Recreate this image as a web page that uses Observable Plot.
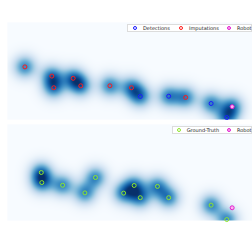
<!DOCTYPE html>
<html>
<head>
<meta charset="utf-8">
<script src="https://cdn.jsdelivr.net/npm/d3@7"></script>
<script src="https://cdn.jsdelivr.net/npm/@observablehq/plot@0.6"></script>
<style>
  body { margin: 0; background: #fff; font-family: "DejaVu Sans", sans-serif; }
  #wrap { position: relative; width: 252px; height: 240px; overflow: hidden; }
  #wrap svg { display: block; }
  .legend { position: absolute; background: #fff; border: 1px solid #dcdcdc; box-sizing: border-box; }
  .ring { position: absolute; width: 4px; height: 4px; border-radius: 50%; box-sizing: border-box; border: 1px solid; }
  .lab { position: absolute; font-size: 5px; line-height: 5px; color: #222; white-space: nowrap; }
</style>
</head>
<body>
<div id="wrap"></div>
<script>
// ---- data (metres) ----
const detX = [5.42, 6.58, 8.31, 8.95];
const detY = [0.95, 0.96, 0.66, 0.08];
const impX = [0.71, 1.81, 1.89, 2.68, 2.99, 4.18, 5.06, 7.27];
const impY = [2.17, 1.79, 1.31, 1.70, 1.39, 1.39, 1.31, 0.91];
const robotX = [9.17];
const robotY = [0.53];
const gtX = [1.38, 1.40, 2.25, 3.59, 3.16, 4.74, 5.17, 5.42, 6.12, 6.58, 8.31, 8.95];
const gtY = [2.00, 1.58, 1.47, 1.79, 1.15, 1.14, 1.46, 0.95, 1.42, 0.95, 0.64, 0.04];
const xDomain = [0, 10];
const yDomain = [0, 4];
const sigma = 0.32;

const zip = (xs, ys) => xs.map((x, i) => ({x, y: ys[i]}));
const det = zip(detX, detY);
const imp = zip(impX, impY);
const robot = zip(robotX, robotY);
const gt = zip(gtX, gtY);

function densityOf(pts) {
  return (x, y) => {
    let s = 0;
    for (const p of pts) {
      const dx = x - p.x, dy = y - p.y;
      s += Math.exp(-(dx * dx + dy * dy) / (2 * sigma * sigma));
    }
    return s;
  };
}

function panel(heatPts, marks, mt, mb) {
  return Plot.plot({
    width: 252, height: 120,
    marginLeft: 7, marginRight: 0, marginTop: mt, marginBottom: mb,
    x: {domain: xDomain, axis: null},
    y: {domain: yDomain, axis: null},
    color: {type: "linear", scheme: "blues", domain: [0, 1.55], clamp: true},
    style: {background: "#fff"},
    marks: [
      Plot.raster({fill: densityOf(heatPts), x1: xDomain[0], x2: xDomain[1], y1: yDomain[0], y2: yDomain[1], pixelSize: 1}),
      ...marks
    ]
  });
}

const wrap = document.getElementById("wrap");
const topPanel = panel([...imp, ...det, ...robot], [
  Plot.dot(imp, {x: "x", y: "y", r: 2, stroke: "#ff1a1a", strokeWidth: 1}),
  Plot.dot(det, {x: "x", y: "y", r: 2, stroke: "#1a1aff", strokeWidth: 1}),
  Plot.dot(robot, {x: "x", y: "y", r: 2, stroke: "#e020d0", fill: "#ffb0f0", strokeWidth: 1})
], 22, 1);
const bottomPanel = panel(gt, [
  Plot.dot(gt, {x: "x", y: "y", r: 2, stroke: "#8ee62a", strokeWidth: 1}),
  Plot.dot(robot, {x: "x", y: "y", r: 2, stroke: "#e020d0", fill: "#ffb0f0", strokeWidth: 1})
], 4, 20);
wrap.appendChild(topPanel);
wrap.appendChild(bottomPanel);

function legend(left, topPx, width, height, items) {
  const box = document.createElement("div");
  box.className = "legend";
  Object.assign(box.style, {left: left + "px", top: topPx + "px", width: width + "px", height: height + "px"});
  for (const it of items) {
    const r = document.createElement("div");
    r.className = "ring";
    Object.assign(r.style, {left: (it.rx - 2) + "px", top: (height / 2 - 3) + "px", borderColor: it.color, background: it.fill || "transparent"});
    box.appendChild(r);
    const t = document.createElement("div");
    t.className = "lab";
    t.textContent = it.label;
    Object.assign(t.style, {left: it.tx + "px", top: (height / 2 - 3.5) + "px"});
    box.appendChild(t);
  }
  wrap.appendChild(box);
}
legend(127, 24, 125, 8, [
  {rx: 6.5, tx: 15, color: "#1a1aff", label: "Detections"},
  {rx: 52.5, tx: 61, color: "#ff1a1a", label: "Imputations"},
  {rx: 101, tx: 109, color: "#e020d0", fill: "#ffb0f0", label: "Robot"}
]);
legend(172, 126, 80, 8, [
  {rx: 5.7, tx: 13.7, color: "#8ee62a", label: "Ground-Truth"},
  {rx: 56.3, tx: 64, color: "#e020d0", fill: "#ffb0f0", label: "Robot"}
]);
</script>
</body>
</html>
